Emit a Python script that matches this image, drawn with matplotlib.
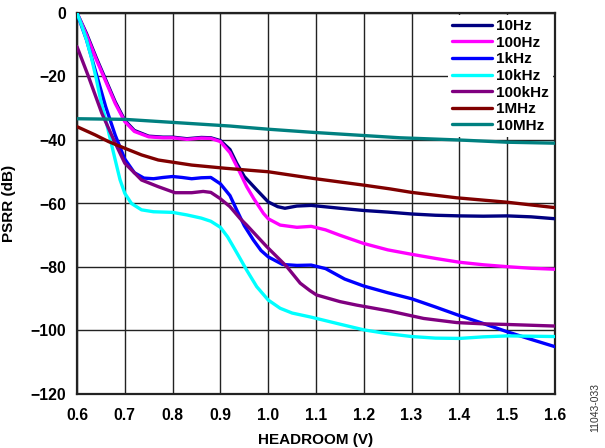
import matplotlib
matplotlib.use("Agg")
import matplotlib.pyplot as plt

plt.rcParams['font.family'] = ['Liberation Sans', 'DejaVu Sans']
plt.rcParams['font.weight'] = 'bold'

labels = ["10Hz", "100Hz", "1kHz", "10kHz", "100kHz", "1MHz", "10MHz"]
colors = ["#000080", "#FF00FF", "#0000FF", "#00FFFF", "#800080", "#800000", "#008080"]

x_10hz = [0.60, 0.62, 0.64, 0.66, 0.68, 0.70, 0.72, 0.75, 0.78, 0.80, 0.83, 0.86, 0.88, 0.90,
          0.92, 0.934, 0.95, 0.976, 1.00, 1.02, 1.035, 1.06, 1.09, 1.15, 1.20, 1.25, 1.30,
          1.35, 1.40, 1.45, 1.50, 1.55, 1.60]
y_10hz = [0.0, -6.5, -14.0, -21.0, -28.0, -33.8, -37.0, -38.8, -39.1, -39.1, -39.6, -39.2, -39.3, -40.2,
          -43.0, -47.3, -51.5, -55.7, -59.5, -61.0, -61.5, -60.8, -60.6, -61.5, -62.2, -62.7, -63.3,
          -63.7, -63.9, -64.0, -63.9, -64.2, -64.8]

x_100hz = [0.60, 0.62, 0.64, 0.66, 0.68, 0.70, 0.72, 0.75, 0.78, 0.80, 0.83, 0.86, 0.88, 0.90,
           0.92, 0.94, 0.955, 0.97, 0.99, 1.00, 1.025, 1.06, 1.09, 1.12, 1.15, 1.20, 1.25, 1.30,
           1.35, 1.40, 1.45, 1.50, 1.55, 1.60]
y_100hz = [0.0, -7.0, -14.5, -21.5, -28.5, -34.2, -37.3, -39.0, -39.3, -39.3, -39.8, -39.4, -39.5, -40.5,
           -44.0, -50.0, -54.7, -58.5, -63.1, -64.8, -66.8, -67.5, -67.2, -68.3, -70.0, -72.6, -74.6, -76.0,
           -77.3, -78.5, -79.3, -79.9, -80.4, -80.7]

x_1khz = [0.60, 0.61, 0.62, 0.64, 0.66, 0.68, 0.70, 0.72, 0.74, 0.76, 0.78, 0.80, 0.82, 0.84, 0.86,
          0.88, 0.90, 0.92, 0.934, 0.95, 0.969, 0.985, 1.00, 1.03, 1.06, 1.09, 1.12, 1.16, 1.20, 1.25,
          1.30, 1.35, 1.40, 1.45, 1.50, 1.55, 1.60]
y_1khz = [0.0, -4.3, -8.5, -19.0, -29.5, -38.5, -46.0, -50.3, -52.0, -52.2, -51.8, -51.5, -51.8, -52.2, -51.9,
          -51.8, -53.8, -57.5, -62.0, -67.0, -71.5, -74.8, -76.8, -79.2, -79.5, -79.4, -80.5, -83.8, -86.0, -88.1,
          -90.0, -92.6, -95.3, -97.8, -100.4, -102.8, -105.1]

x_10khz = [0.60, 0.61, 0.62, 0.63, 0.64, 0.65, 0.66, 0.67, 0.68, 0.69, 0.70, 0.714, 0.735, 0.76, 0.80,
           0.83, 0.86, 0.88, 0.90, 0.915, 0.927, 0.94, 0.955, 0.976, 1.00, 1.025, 1.05, 1.09, 1.15, 1.20,
           1.25, 1.30, 1.35, 1.40, 1.45, 1.50, 1.55, 1.60]
y_10khz = [0.0, -4.0, -8.5, -14.0, -20.5, -27.8, -33.5, -40.0, -46.3, -52.5, -56.8, -60.0, -62.0, -62.6, -62.8,
           -63.6, -64.6, -65.6, -67.5, -70.5, -73.6, -77.0, -81.0, -86.2, -90.4, -93.0, -94.5, -95.8, -98.0, -99.8,
           -101.0, -101.9, -102.4, -102.5, -102.0, -101.7, -101.8, -101.9]

x_100khz = [0.60, 0.624, 0.652, 0.68, 0.70, 0.735, 0.77, 0.805, 0.84, 0.864, 0.88, 0.899, 0.92, 0.941,
            0.955, 0.997, 1.039, 1.067, 1.087, 1.101, 1.15, 1.185, 1.255, 1.325, 1.394, 1.45, 1.50, 1.60]
y_100khz = [-10.6, -20.0, -31.6, -41.0, -47.3, -52.6, -54.7, -56.6, -56.6, -56.2, -56.5, -58.4, -61.0, -64.7,
            -66.8, -73.6, -79.9, -85.1, -87.4, -88.8, -90.9, -92.0, -93.9, -96.2, -97.5, -97.9, -98.1, -98.6]

x_1mhz = [0.60, 0.638, 0.666, 0.70, 0.735, 0.77, 0.805, 0.84, 0.875, 0.91, 0.95, 1.00, 1.094, 1.199,
          1.255, 1.30, 1.394, 1.50, 1.60]
y_1mhz = [-35.8, -38.4, -40.5, -42.6, -44.7, -46.3, -47.1, -47.9, -48.4, -48.9, -49.4, -50.0, -52.1, -54.2,
          -55.4, -56.5, -58.2, -59.6, -61.3]

x_10mhz = [0.60, 0.70, 0.805, 0.92, 0.951, 1.00, 1.094, 1.276, 1.40, 1.50, 1.60]
y_10mhz = [-33.3, -33.5, -34.5, -35.6, -36.0, -36.6, -37.6, -39.3, -40.0, -40.7, -41.0]

xs = [x_10hz, x_100hz, x_1khz, x_10khz, x_100khz, x_1mhz, x_10mhz]
ys = [y_10hz, y_100hz, y_1khz, y_10khz, y_100khz, y_1mhz, y_10mhz]

x_ticks = [0.6, 0.7, 0.8, 0.9, 1.0, 1.1, 1.2, 1.3, 1.4, 1.5, 1.6]
x_ticklabels = ["0.6", "0.7", "0.8", "0.9", "1.0", "1.1", "1.2", "1.3", "1.4", "1.5", "1.6"]
y_ticks = [-120, -100, -80, -60, -40, -20, 0]

fig = plt.figure(figsize=(6.05, 4.48), dpi=100)
ax = fig.add_axes([77 / 605, 1 - 394 / 448, (555 - 77) / 605, (394 - 13) / 448])

for xv, yv, c, lab in zip(xs, ys, colors, labels):
    ax.plot(xv, yv, color=c, lw=2.4, label=lab, solid_capstyle='round', solid_joinstyle='round', zorder=3)

ax.set_xlim(0.6, 1.6)
ax.set_ylim(-120, 0)
ax.set_xticks(x_ticks)
ax.set_xticklabels(x_ticklabels)
ax.set_yticks(y_ticks)
ax.grid(True, color="#222222", lw=1.0, zorder=1)
ax.set_axisbelow(True)
for s in ax.spines.values():
    s.set_linewidth(1.6)
    s.set_color("#222222")
ax.tick_params(length=0, labelsize=11.3, pad=8)
ax.tick_params(axis='x', pad=10)
for t in ax.get_xticklabels() + ax.get_yticklabels():
    t.set_fontweight('bold')

ax.set_xlabel("HEADROOM (V)", fontsize=11, fontweight='bold', labelpad=7)
ax.set_ylabel("PSRR (dB)", fontsize=11, fontweight='bold', labelpad=10)

leg = ax.legend(loc='upper right', frameon=True, framealpha=1, fancybox=False, edgecolor='none',
                handlelength=2.6, handletextpad=0.3, labelspacing=0.17,
                borderpad=0.25, borderaxespad=0.15, prop={'weight': 'bold', 'size': 11})
leg.set_zorder(5)

fig.text(0.983, 0.09, "11043-033", rotation=90, fontsize=7.5, fontweight='normal',
         color="#333333", ha='center', va='center')

fig.savefig("out.png", dpi=100)
